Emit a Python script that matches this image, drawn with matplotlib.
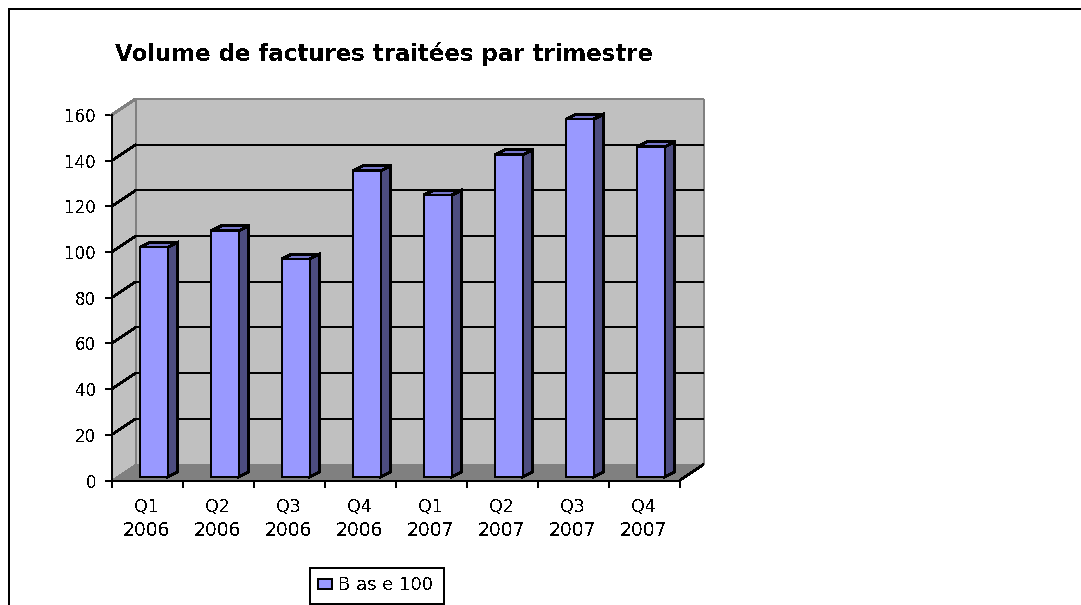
import matplotlib
matplotlib.use('Agg')
import matplotlib.pyplot as plt
from matplotlib.lines import Line2D
from matplotlib.patches import Polygon, Rectangle
from matplotlib.transforms import IdentityTransform

plt.rcParams['font.family'] = ['DejaVu Sans']
plt.rcParams['text.antialiased'] = False

quarters = ['Q1', 'Q2', 'Q3', 'Q4', 'Q1', 'Q2', 'Q3', 'Q4']
years = ['2006', '2006', '2006', '2006', '2007', '2007', '2007', '2007']
values = [100.5, 107.7, 95.4, 134, 123.4, 141, 156.6, 144.5]
y_ticks = [0, 20, 40, 60, 80, 100, 120, 140, 160]
title = 'Volume de factures traitées par trimestre'
legend_label = 'B as e 100'

W, H = 1081, 605
DPI = 100

WALL = '#c0c0c0'
FLOOR = '#808080'
BAR = '#9999ff'
BAR_TOP = '#7777cc'
BAR_SIDE = '#4d4d80'

# size of the fake 3d, in pixels
DEPTH_X, DEPTH_Y = 24, 16
BAR_DX, BAR_DY = 10, 5
BAR_LIFT = 3.5
BAR_WIDTH = 0.39
BAR_SHIFT = 0.095
LW = 1.44

fig = plt.figure(figsize=(W / DPI, H / DPI), dpi=DPI)
ax = fig.add_axes([111.5 / W, 1 - 480.5 / H, 568 / W, 365.5 / H])
ax.set_xlim(0, 8)
ax.set_ylim(0, 160)
ax.patch.set_alpha(0)
pix = IdentityTransform()


def to_px(x, y):
    return ax.transData.transform((x, y))


def poly(points, zorder, fc, ec='none', lw=LW):
    ax.add_patch(Polygon(points, closed=True, fc=fc, ec=ec, lw=lw, transform=pix,
                         clip_on=False, antialiased=False, zorder=zorder))


def line(points, zorder, color='black', lw=LW):
    xs_, ys_ = zip(*points)
    ax.add_line(Line2D(xs_, ys_, color=color, lw=lw, transform=pix, clip_on=False,
                       antialiased=False, zorder=zorder, solid_capstyle='butt'))


def shift(p, dx, dy):
    return (p[0] + dx, p[1] + dy)


# page frame, open at the bottom and on the right
fig.add_artist(Line2D([9 / W, 9 / W], [0, 1 - 9 / H], color='black', lw=LW, antialiased=False))
fig.add_artist(Line2D([9 / W, 1], [1 - 9 / H, 1 - 9 / H], color='black', lw=LW, antialiased=False))

bl, br, tl, tr = to_px(0, 0), to_px(8, 0), to_px(0, 160), to_px(8, 160)
back_bl, back_br = shift(bl, DEPTH_X, DEPTH_Y), shift(br, DEPTH_X, DEPTH_Y)
back_tl, back_tr = shift(tl, DEPTH_X, DEPTH_Y), shift(tr, DEPTH_X, DEPTH_Y)

# walls and floor
poly([bl, tl, back_tl, back_bl], 1, WALL)
poly([back_bl, back_tl, back_tr, back_br], 1, WALL)
poly([bl, back_bl, back_br, br], 1.5, FLOOR)
line([tl, back_tl], 2, color='#808080')
line([back_tl, back_tr], 2, color='#808080')
line([back_tr, back_br], 2, color='#808080')
line([back_tl, back_bl], 2, color='#808080')

# gridlines on the back wall and on the left wall
for v in y_ticks[1:-1]:
    p = to_px(0, v)
    q = shift(p, DEPTH_X, DEPTH_Y)
    line([p, q], 2.5, lw=1.2)
    line([q, shift(to_px(8, v), DEPTH_X, DEPTH_Y)], 2.5)
line([br, back_br], 2.5, lw=1.2)

# bars: side and top first, then the front face
xs = [i + 0.5 + BAR_SHIFT for i in range(len(values))]
for x, v in zip(xs, values):
    fl = shift(to_px(x - BAR_WIDTH / 2, v), 0, BAR_LIFT)
    fr = shift(to_px(x + BAR_WIDTH / 2, v), 0, BAR_LIFT)
    fb = shift(to_px(x + BAR_WIDTH / 2, 0), 0, BAR_LIFT)
    poly([fr, shift(fr, BAR_DX, BAR_DY), shift(fb, BAR_DX, BAR_DY), fb], 4, BAR_SIDE, 'black')
    poly([fl, shift(fl, BAR_DX, BAR_DY), shift(fr, BAR_DX, BAR_DY), fr], 4, BAR_TOP, 'black')
    poly([fl, fr, fb, shift(to_px(x - BAR_WIDTH / 2, 0), 0, BAR_LIFT)], 5, BAR, 'black')

# axes
for side in ['top', 'right']:
    ax.spines[side].set_visible(False)
for side in ['left', 'bottom']:
    ax.spines[side].set_linewidth(LW)
    ax.spines[side].set_antialiased(False)
    ax.spines[side].set_zorder(6)

ax.set_yticks(y_ticks)
ax.tick_params(axis='y', length=5, width=LW, labelsize=12, pad=6)
ax.set_xticks(range(9))
ax.set_xticklabels([])
ax.tick_params(axis='x', length=5, width=LW)
for i, (q, y) in enumerate(zip(quarters, years)):
    ax.annotate(q, xy=(i + 0.5, 0), xycoords=ax.get_xaxis_transform(), xytext=(-1, -26),
                textcoords='offset pixels', ha='center', va='center', fontsize=12.5)
    ax.annotate(y, xy=(i + 0.5, 0), xycoords=ax.get_xaxis_transform(), xytext=(-1, -50),
                textcoords='offset pixels', ha='center', va='center', fontsize=13.5)

fig.text(115 / W, 1 - 54 / H, title, fontsize=16.5, fontweight='bold', ha='left', va='center')

# legend box
fig.add_artist(Rectangle((310 / W, 1 - 603.5 / H), 134 / W, 35.5 / H, transform=fig.transFigure,
                         fc='white', ec='black', lw=LW, antialiased=False))
fig.add_artist(Rectangle((318 / W, 1 - 589 / H), 14 / W, 10 / H, transform=fig.transFigure,
                         fc=BAR, ec='black', lw=1.2, antialiased=False))
fig.text(338 / W, 1 - 585 / H, legend_label, fontsize=13, ha='left', va='center')

fig.savefig('out.png', dpi=DPI)
